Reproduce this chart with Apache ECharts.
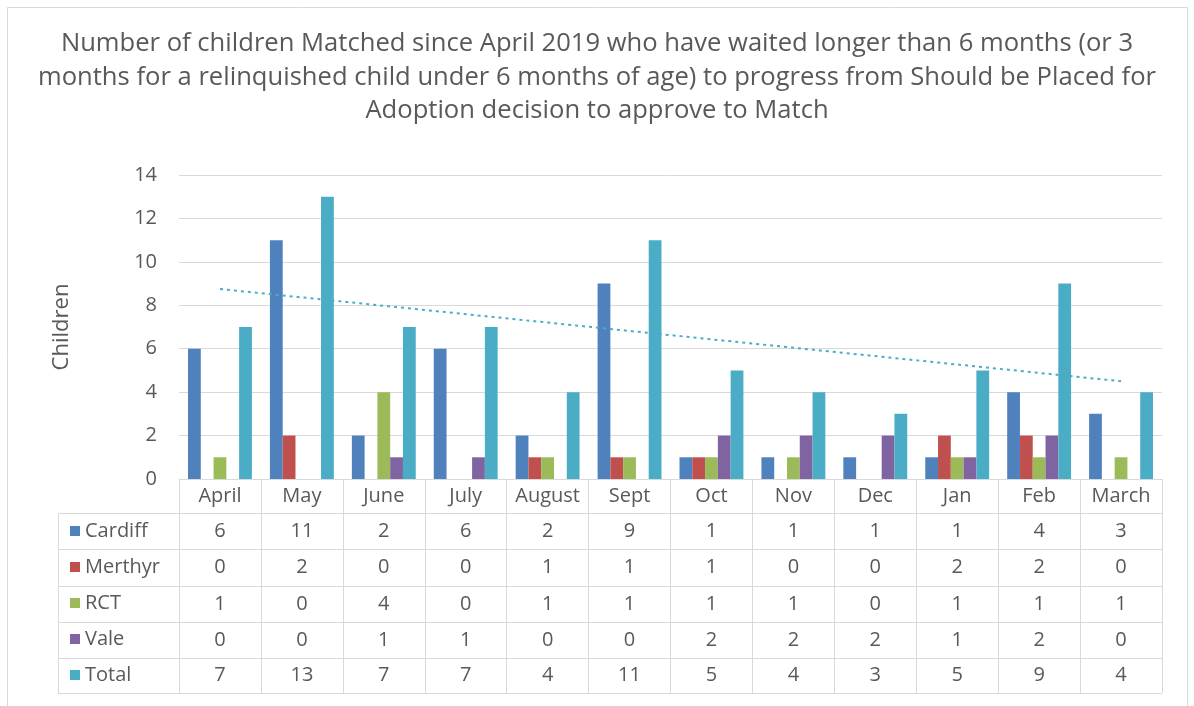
<!DOCTYPE html>
<html>
<head>
<meta charset="utf-8">
<script src="https://cdn.jsdelivr.net/npm/echarts@6/dist/echarts.min.js"></script>
<style>
html,body{margin:0;padding:0;background:#fff;}
#chart{width:1194px;height:706px;}
</style>
</head>
<body>
<div id="chart"></div>
<script>
const months = ['April','May','June','July','August','Sept','Oct','Nov','Dec','Jan','Feb','March'];
const cardiff = [6,11,2,6,2,9,1,1,1,1,4,3];
const merthyr = [0,2,0,0,1,1,1,0,0,2,2,0];
const rct = [1,0,4,0,1,1,1,1,0,1,1,1];
const vale = [0,0,1,1,0,0,2,2,2,1,2,0];
const total = [7,13,7,7,4,11,5,4,3,5,9,4];
const trendEnds = [8.75, 4.5];
const seriesNames = ['Cardiff','Merthyr','RCT','Vale','Total'];
const yTicks = [0, 14, 2];

const seriesData = [cardiff, merthyr, rct, vale, total];
const colors = ['#4F81BD','#C0504D','#9BBB59','#8064A2','#4BACC6'];
const FONT = 'Open Sans';
const TXT = '#595959';
const LINE = '#D9D9D9';

const gridLeft = 179, gridRight = 1162, axisY = 479;
const rowLines = [513, 549, 586, 622, 658, 693];
const tableLeft = 58;

const chart = echarts.init(document.getElementById('chart'), null, {renderer:'canvas'});

const rowAxes = seriesData.map((arr, k) => {
  const yc = (rowLines[k] + rowLines[k+1]) / 2;
  return {
    type: 'category', gridIndex: 0, position: 'bottom', data: months,
    offset: yc - 12 - axisY,
    axisLine: {show:false}, axisTick: {show:false}, splitLine: {show:false},
    axisLabel: {interval:0, margin:0, fontSize:20, lineHeight:24, color:TXT, fontFamily:FONT,
      formatter: (v, i) => String(arr[i])}
  };
});

const graphics = [];
graphics.push({type:'rect', shape:{x:7.5, y:7.5, width:1180, height:720}, style:{fill:'none', stroke:LINE, lineWidth:1}, silent:true});
rowLines.forEach(y => {
  graphics.push({type:'line', shape:{x1:tableLeft, y1:y+0.5, x2:gridRight, y2:y+0.5}, style:{stroke:LINE, lineWidth:1}, silent:true});
});
graphics.push({type:'line', shape:{x1:tableLeft+0.5, y1:rowLines[0], x2:tableLeft+0.5, y2:rowLines[rowLines.length-1]}, style:{stroke:LINE, lineWidth:1}, silent:true});

const option = {
  animation: false,
  textStyle: {fontFamily: FONT},
  title: {
    text: 'Number of children Matched since April 2019 who have waited longer than 6 months (or 3\nmonths for a relinquished child under 6 months of age) to progress from Should be Placed for\nAdoption decision to approve to Match',
    left: 'center', top: 22,
    textStyle: {fontSize: 25.6, lineHeight: 33.5, fontWeight: 'normal', color: TXT, fontFamily: FONT}
  },
  legend: {
    data: seriesNames, orient: 'vertical', left: 70, top: 521, padding: 0,
    itemWidth: 10, itemHeight: 10, itemGap: 16, icon: 'rect', selectedMode: false,
    textStyle: {fontSize: 20, lineHeight: 20, color: TXT, fontFamily: FONT}
  },
  grid: {left: gridLeft, right: 1194 - gridRight, top: 175, bottom: 706 - axisY, containLabel: false},
  xAxis: [{
    type: 'category', data: months, gridIndex: 0, position: 'bottom',
    axisLine: {show: true, lineStyle: {color: LINE, width: 1}},
    axisTick: {show: true, interval: 0, length: rowLines[rowLines.length-1] - axisY, lineStyle: {color: LINE}},
    axisLabel: {interval: 0, margin: 5, fontSize: 20, lineHeight: 24, color: TXT, fontFamily: FONT},
    splitLine: {show: false}
  }].concat(rowAxes),
  yAxis: {
    type: 'value', min: yTicks[0], max: yTicks[1], interval: yTicks[2],
    name: 'Children', nameLocation: 'middle', nameRotate: 90, nameGap: 106,
    nameTextStyle: {fontSize: 22, color: TXT, fontFamily: FONT},
    axisLine: {show: false}, axisTick: {show: false},
    axisLabel: {fontSize: 20, color: TXT, margin: 22, fontFamily: FONT},
    splitLine: {lineStyle: {color: LINE, width: 1}}
  },
  series: seriesNames.map((n, k) => ({
    name: n, type: 'bar', data: seriesData[k], xAxisIndex: 0, yAxisIndex: 0,
    barGap: '0%', barCategoryGap: '22%',
    itemStyle: {color: colors[k]}
  })).concat([{
    name: 'Linear (Total)', type: 'line', xAxisIndex: 0, yAxisIndex: 0,
    data: [[months[0], trendEnds[0]], [months[months.length-1], trendEnds[1]]],
    symbol: 'none', silent: true,
    lineStyle: {color: '#4BACC6', width: 2, type: [3, 4]}
  }]),
  graphic: graphics
};
chart.setOption(option);
</script>
</body>
</html>
